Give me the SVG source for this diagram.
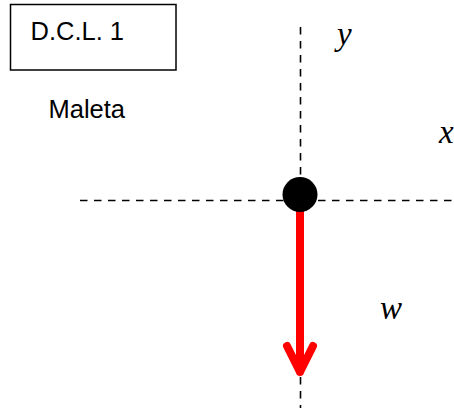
<svg xmlns="http://www.w3.org/2000/svg" width="454" height="408" viewBox="0 0 454 408">
<style>
.axis{stroke:#000;stroke-width:1.6;stroke-dasharray:7.5 6.5;fill:none}
.lbl{font-family:"Liberation Sans",Arial,sans-serif;font-size:25.5px;fill:#000}
.math{font-family:"Liberation Serif","Times New Roman",serif;font-style:italic;font-size:33px;fill:#000}
.force{stroke:#ff0000;stroke-width:8;fill:none;stroke-linecap:round;stroke-linejoin:round}
</style>
<rect width="454" height="408" fill="#fff"/>
<g id="title">
<rect x="10.5" y="4.5" width="165.5" height="65.5" fill="#fff" stroke="#000" stroke-width="1.5"/>
<text class="lbl" x="30.5" y="40">D.C.L. 1</text>
</g>
<g id="maleta-label">
<text class="lbl" x="48.5" y="118">Maleta</text>
</g>
<g id="connectors">
<line class="axis" x1="80" y1="200.5" x2="454" y2="200.5"/>
<line class="axis" x1="300.5" y1="27" x2="300.5" y2="408"/>
<path class="force" d="M300 205 V372 M287 346 L300 372 L313 346"/>
</g>
<g id="body">
<circle cx="300" cy="194.5" r="17.5" fill="#000"/>
</g>
<g id="labels">
<text class="math" x="337" y="45">y</text>
<text class="math" x="439" y="143">x</text>
<text class="math" x="380" y="319">w</text>
</g>
</svg>
